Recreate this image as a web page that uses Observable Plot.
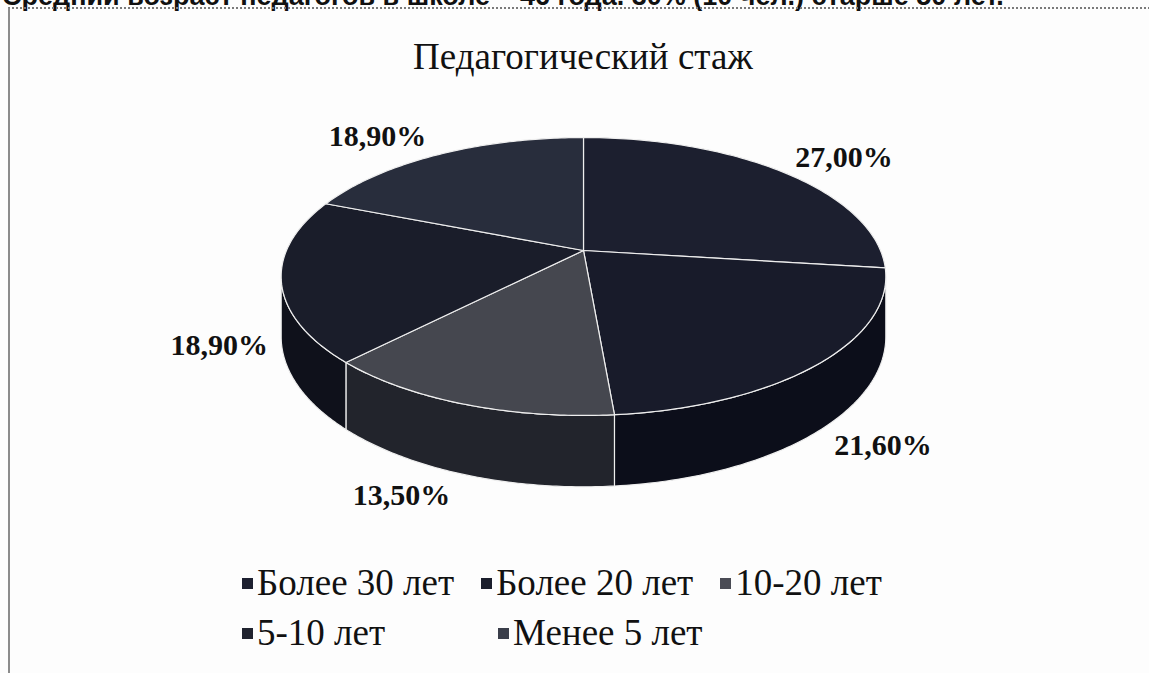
<!DOCTYPE html>
<html><head><meta charset="utf-8">
<script src="https://cdn.jsdelivr.net/npm/d3@7"></script>
<script src="https://cdn.jsdelivr.net/npm/@observablehq/plot@0.6"></script>
<style>
html,body{margin:0;padding:0;}
body{background:#fdfdfd;width:1149px;height:673px;overflow:hidden;position:relative;font-family:"Liberation Serif","Times New Roman",serif;color:#111;}
#cut{position:absolute;left:2px;top:-17px;font:bold 27px/27px "Liberation Sans",Arial,sans-serif;color:#111;white-space:nowrap;}
#frame{position:absolute;left:8px;top:7px;width:1200px;height:700px;border-left:2px solid #8c8c8c;border-top:2px dotted #7a7a7a;}
#title{position:absolute;left:0;width:1166px;top:35px;text-align:center;font-size:37px;line-height:44px;}
#chart{position:absolute;left:0;top:95px;}
.row{position:absolute;left:242px;display:flex;align-items:center;font-size:37px;line-height:42px;white-space:nowrap;}
.item{display:flex;align-items:center;}
.sw{display:inline-block;width:11px;height:11px;margin-right:4px;}
</style></head>
<body>
<div id="cut">Средний возраст педагогов в школе – 46 года. 30% (10 чел.) старше 50 лет.</div>
<div id="frame"></div>
<div id="title">Педагогический стаж</div>
<div id="chart"></div>
<div class="row" id="row1" style="top:562px"></div>
<div class="row" id="row2" style="top:612px"></div>
<script>
// ---- data ----
const categories = ["Более 30 лет", "Более 20 лет", "10-20 лет", "5-10 лет", "Менее 5 лет"];
const shares = [27.0, 21.6, 13.5, 18.9, 18.9];
const topColors = ["#1c1f2f", "#181b2a", "#45474f", "#1a1d2a", "#282d3c"];
const sideColors = ["#10121d", "#0c0e1a", "#22242c", "#0f111b", "#161a26"];
const legendColors = ["#1d2030", "#1b1e2c", "#4a4c55", "#20232f", "#3a3e4a"];

// ---- layout ----
const RX = 297, RY = 134.1, CX = 583, CY = 250, TOP = 95;
const K = 0.187;            // perspective strength
const DEPTH = 58 / RY;      // wall thickness in normalized units
const total = d3.sum(shares);
function proj(theta, r = 1, drop = 0) {
  const u = r * Math.sin(theta), v = -r * Math.cos(theta);
  const s = 1 / (1 - K * v);
  return {x: u * s, y: (v + drop) * s, u, v};
}
const silL = Math.PI - Math.acos(K), silR = Math.PI + Math.acos(K); // visible wall range
let acc = 0;
const slices = shares.map((v, i) => {
  const a0 = acc / total * 2 * Math.PI; acc += v;
  const a1 = acc / total * 2 * Math.PI;
  return {i, name: categories[i], value: v, a0, a1};
});
const N = 80;
const topPts = [], wallPts = [];
for (const s of slices) {
  topPts.push({key: s.i, x: 0, y: 0, fill: topColors[s.i]});
  for (let k = 0; k <= N; k++) {
    const t = s.a0 + (s.a1 - s.a0) * k / N;
    const p = proj(t);
    topPts.push({key: s.i, x: p.x, y: p.y, fill: topColors[s.i]});
  }
  const w0 = Math.max(s.a0, silL), w1 = Math.min(s.a1, silR);
  if (w1 > w0) {
    const pts = [];
    for (let k = 0; k <= N; k++) { const t = w0 + (w1 - w0) * k / N; const p = proj(t); pts.push({key: s.i, x: p.x, y: p.y, fill: sideColors[s.i]}); }
    for (let k = N; k >= 0; k--) { const t = w0 + (w1 - w0) * k / N; const p = proj(t, 1, DEPTH); pts.push({key: s.i, x: p.x, y: p.y, fill: sideColors[s.i]}); }
    wallPts.push(...pts);
  }
}
const labelData = slices.map(s => {
  const m = (s.a0 + s.a1) / 2;
  const p = proj(m, 1, 0);
  let py = p.y;
  if (p.v > 0) py = proj(m, 1, DEPTH).y;
  return {
    x: p.x + Math.sign(p.u) * 62 / RX,
    y: py + p.v * 22 / RY,
    text: s.value.toFixed(2).replace(".", ",") + "%"
  };
});

const chart = Plot.plot({
  width: 1149, height: 455, margin: 0,
  x: {domain: [-1, 1], range: [CX - RX, CX + RX], axis: null},
  y: {domain: [-1, 1], range: [CY - TOP - RY, CY - TOP + RY], axis: null},
  style: {background: "transparent", fontFamily: "Liberation Serif, serif"},
  marks: [
    Plot.line(wallPts, {x: "x", y: "y", z: "key", fill: "fill", stroke: "#eeeeee", strokeWidth: 1.2, curve: "linear-closed"}),
    Plot.line(topPts, {x: "x", y: "y", z: "key", fill: "fill", stroke: "#eeeeee", strokeWidth: 1.2, curve: "linear-closed"}),
    Plot.text(labelData, {x: "x", y: "y", text: "text", fontSize: 30, fontWeight: "bold", fill: "#111", fontFamily: "Liberation Serif"})
  ]
});
document.getElementById("chart").appendChild(chart);

function item(i, minW) {
  const d = document.createElement("div"); d.className = "item";
  if (minW) d.style.minWidth = minW + "px"; else d.style.marginRight = "27px";
  const sw = document.createElement("span"); sw.className = "sw"; sw.style.background = legendColors[i];
  d.appendChild(sw); d.appendChild(document.createTextNode(categories[i]));
  return d;
}
const r1 = document.getElementById("row1"), r2 = document.getElementById("row2");
[0, 1, 2].forEach(i => r1.appendChild(item(i)));
r2.appendChild(item(3, 256)); r2.appendChild(item(4));
</script>
</body></html>
